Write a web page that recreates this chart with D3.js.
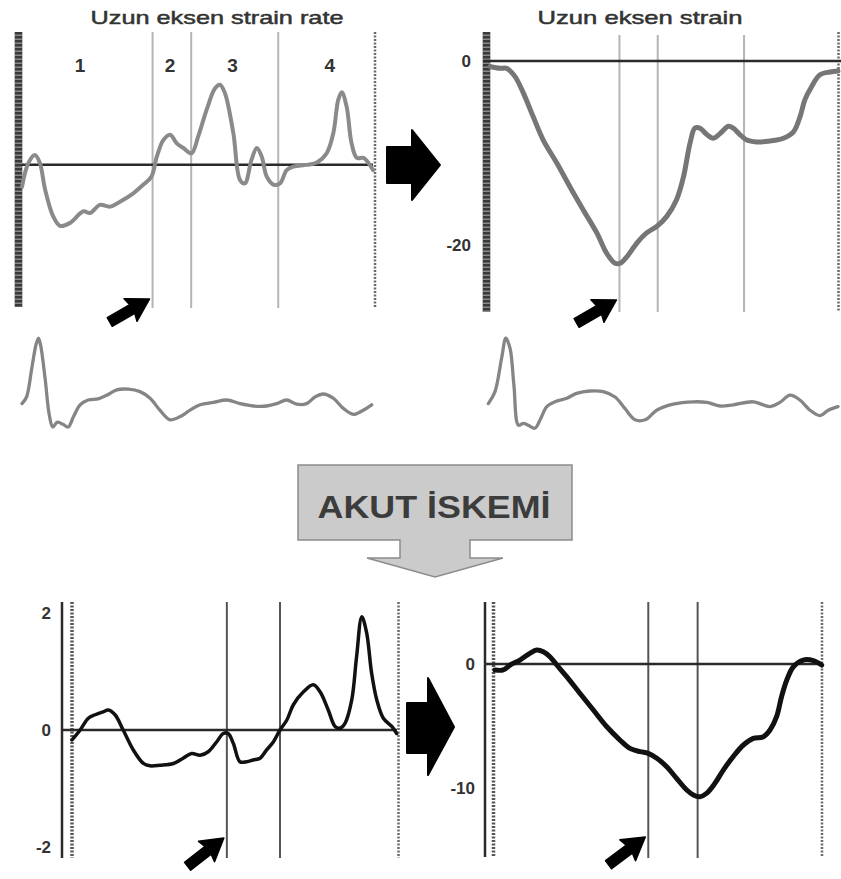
<!DOCTYPE html>
<html>
<head>
<meta charset="utf-8">
<script src="https://cdnjs.cloudflare.com/ajax/libs/d3/7.8.5/d3.min.js"></script>
<style>
  body { margin: 0; background: #fff; }
  svg { display: block; }
  text { font-family: "Liberation Sans", Arial, sans-serif; }
</style>
</head>
<body>
<div id="chart"></div>
<script>
'use strict';

const w = 841;
const h = 879;

// time axis of every panel: 0-100 (% of the cardiac cycle)
const phaseLabels = ["1", "2", "3", "4"];
const phaseCenters = [16.5, 42.2, 60, 87.7];
const eventsTop = [37.2, 48.2, 73];
const eventsBottomLeft = [47.5, 63.8];
const eventsBottomRight = [47.2, 62.2];

const titles = ["Uzun eksen strain rate", "Uzun eksen strain"];
const ischemiaLabel = "AKUT İSKEMİ";

const ticksStrainTop = [0, -20];
const ticksRateBottom = [2, 0, -2];
const ticksStrainBottom = [0, -10];

// [time, strain rate 1/s] - normal
const strainRateNormal = [[0,-0.38],[1.8,0.03],[3.7,0.17],[5.1,0.03],[6.6,-0.43],[8.9,-0.89],[10.8,-1.05],
  [13.7,-1.0],[17.5,-0.8],[19.4,-0.83],[22.2,-0.69],[25.1,-0.72],[28.9,-0.6],[31.7,-0.49],[34.6,-0.34],
  [36.9,-0.2],[38.4,0.14],[40.3,0.43],[42.2,0.52],[44.1,0.37],[46,0.29],[48.3,0.2],[50.2,0.49],[52.6,0.95],
  [55,1.32],[56.4,1.38],[57.8,1.24],[60.2,0.55],[62.1,-0.26],[63.5,-0.32],[65.4,0.09],[66.9,0.29],[68.3,0.14],
  [69.7,-0.2],[71.6,-0.34],[73.5,-0.32],[75.4,-0.09],[77.3,-0.03],[81.1,0],[84,0.04],[86.8,0.2],[88.7,0.55],
  [90.1,1.12],[91.1,1.25],[92.5,1.0],[93.9,0.37],[95.4,0.12],[97.3,0.12],[99.1,0],[100,-0.09]];

// [time, strain %] - normal
const strainNormal = [[0,-0.6],[2.9,-0.8],[4.8,-0.8],[7.2,-1.7],[9.6,-3.5],[12.4,-6.05],[15.3,-8.6],
  [19.2,-11.1],[23,-13.7],[26.8,-16.2],[30.7,-18.7],[33.5,-20.9],[35.9,-22],[37.4,-22],[39.3,-21.3],
  [42.2,-19.8],[45,-18.7],[47.9,-18],[50.8,-16.9],[53.6,-15.1],[55.6,-12.6],[57.5,-8.9],[58.9,-7.3],
  [60.3,-7.3],[62.3,-8.0],[64.2,-8.4],[66.1,-7.9],[68.5,-7.1],[69.9,-7.3],[71.8,-8.0],[73.8,-8.6],
  [76.6,-8.8],[80.5,-8.7],[84.3,-8.4],[87.2,-7.7],[89.1,-6.05],[90.5,-4.2],[92.4,-2.8],[94.8,-1.5],
  [97.7,-1.2],[100,-1.1]];

// [time, mV] - ECG under each normal panel
const ecgLeft = [[0,-0.01],[1.3,0.1],[2.8,0.58],[4,0.97],[4.7,1.08],[5.3,0.97],[6.6,0.41],[7.8,-0.2],
  [8.8,-0.4],[10.1,-0.32],[11.8,-0.36],[13.2,-0.4],[14.7,-0.23],[16.6,-0.03],[18.9,0.05],[21.8,0.07],
  [24.2,0.13],[27.1,0.22],[30.4,0.23],[33.7,0.19],[36.6,0.08],[39.4,-0.12],[42.3,-0.28],[45.1,-0.23],
  [48,-0.12],[50.9,-0.03],[54.7,0.01],[58.5,0.05],[62.3,-0.01],[66.1,-0.05],[69.9,-0.05],[72.8,-0.01],
  [75.6,0.05],[78.5,-0.02],[81.3,-0.01],[83.7,0.1],[86.1,0.15],[88.9,0.08],[91.8,-0.09],[94.7,-0.19],
  [97.5,-0.12],[99.9,-0.03]];

const ecgRight = [[0.1,-0.01],[2,0.19],[3.9,0.75],[5.1,1.08],[6.3,0.91],[7.4,0.3],[8.7,-0.37],[10.1,-0.34],
  [11.5,-0.37],[13.4,-0.42],[14.9,-0.28],[16.8,-0.06],[19.1,0.02],[22.5,0.08],[25.3,0.16],[29.1,0.2],
  [32.9,0.19],[36.3,0.1],[39.1,-0.09],[42,-0.28],[44.9,-0.28],[48.2,-0.12],[52.9,-0.02],[58.7,0.02],
  [62.5,0.01],[66.3,-0.05],[70.1,-0.03],[75.8,0.02],[80.6,-0.06],[83.4,0.01],[86.3,0.13],[89.1,0.05],
  [92,-0.12],[94.9,-0.21],[97.2,-0.12],[100,-0.06]];

// [time, strain rate 1/s] - acute ischemia
const strainRateIschemia = [[0,-0.17],[2.5,0],[5,0.2],[7.1,0.26],[9.6,0.31],[11.1,0.34],[13.2,0.26],
  [15.7,0],[18.8,-0.34],[21.9,-0.57],[23.9,-0.61],[27,-0.6],[31.1,-0.57],[34.1,-0.48],[36.7,-0.4],
  [39.3,-0.43],[41.8,-0.37],[44.4,-0.2],[46.4,-0.06],[47.9,-0.06],[49.5,-0.23],[51.5,-0.54],[53.6,-0.54],
  [55.6,-0.51],[57.7,-0.48],[59.7,-0.34],[61.8,-0.2],[63.8,0],[65.9,0.17],[67.9,0.43],[71,0.65],[74,0.77],
  [76.1,0.65],[78.6,0.34],[80.7,0.06],[82.2,0.03],[83.7,0.11],[85.8,0.51],[87.3,1.25],[88.9,1.93],
  [90.4,1.65],[91.9,0.97],[93.5,0.51],[95.5,0.2],[98.1,0.06],[99.6,-0.06]];

// [time, strain %] - acute ischemia
const strainIschemia = [[0.6,-0.48],[3.1,-0.48],[5.2,-0.08],[8.2,0.32],[11.2,0.86],[13.3,1.13],[15.3,0.99],
  [17.3,0.59],[19.4,-0.08],[22.4,-1.02],[26.4,-2.36],[30.5,-3.71],[34.6,-5.06],[38.6,-6.13],[41.6,-6.8],
  [44.7,-7.07],[47.2,-7.2],[49.8,-7.6],[52.8,-8.28],[55.8,-9.22],[58.9,-10.16],[60.9,-10.56],[62.9,-10.7],
  [64.9,-10.43],[67.5,-9.6],[70,-8.55],[73,-7.47],[76.1,-6.53],[79.1,-6.0],[82.2,-5.86],[84.2,-5.32],
  [86.2,-4.25],[87.7,-2.64],[89.3,-1.29],[91.3,-0.22],[94.3,0.32],[97.4,0.27],[99.9,-0.08]];

const chart = d3.select("#chart").append("svg").
attr("width", w).
attr("height", h);

const font = "'Liberation Sans', Arial, sans-serif";

//PANELS
const panels = [
  { data: strainRateNormal, xr: [22, 373], yd: [-2.45, 2.29], yr: [307, 32],
    leftAxis: "bar", leftX: 18.5, rightX: 375, zero: [22, 373], events: eventsTop, eventColor: "#b4b4b4",
    eventY: [32, 308], ticks: null, color: "#8a8a8a", width: 4, arrow: { dy: -9, angle: -30 } },
  { data: strainNormal, xr: [490, 838], yd: [-27.3, 3.15], yr: [312, 32],
    leftAxis: "bar", leftX: 486.5, rightX: 838.5, zero: [483, 841], events: eventsTop, eventColor: "#b4b4b4",
    eventY: [35, 312], ticks: ticksStrainTop, tickX: 471, color: "#767676", width: 5, arrow: { dy: -12, angle: -30 } },
  { data: strainRateIschemia, xr: [72, 398], yd: [-2.18, 2.18], yr: [858, 602],
    leftAxis: "double", leftX: 62, leftX2: 72, rightX: 398.5, zero: [62, 397], events: eventsBottomLeft, eventColor: "#555",
    eventY: [602, 858], ticks: ticksRateBottom, tickX: 51, color: "#111", width: 3.5, arrow: { dy: -20, angle: -38 } },
  { data: strainIschemia, xr: [493, 822], yd: [-15.56, 5], yr: [857, 602],
    leftAxis: "double", leftX: 485, leftX2: 493.5, rightX: 822, zero: [485, 822], events: eventsBottomRight, eventColor: "#555",
    eventY: [602, 858], ticks: ticksStrainBottom, tickX: 475, color: "#111", width: 5, arrow: { dy: -21, angle: -37 } }
];

const ecgs = [
  { data: ecgLeft, xr: [22, 372] },
  { data: ecgRight, xr: [488, 838] }
];

//small pointer arrow, tip at origin pointing along +x
const pointer = "M0,0 L-22,-13 L-20,-5 L-46,-5 L-46,5 L-20,5 L-22,13 Z";

function drawPanel(p) {
  const x = d3.scaleLinear().domain([0, 100]).range(p.xr);
  const y = d3.scaleLinear().domain(p.yd).range(p.yr);
  const g = chart.append("g");

  //event (valve timing) lines
  g.selectAll("line.event").
  data(p.events).
  enter().
  append("line").
  attr("class", "event").
  attr("x1", d => x(d)).attr("x2", d => x(d)).
  attr("y1", p.eventY[0]).attr("y2", p.eventY[1]).
  attr("stroke", p.eventColor).
  attr("stroke-width", 2);

  //left axis
  if (p.leftAxis === "bar") {
    g.append("line").
    attr("x1", p.leftX).attr("x2", p.leftX).
    attr("y1", p.yr[1]).attr("y2", p.yr[0]).
    attr("stroke", "#8a8a8a").
    attr("stroke-width", 8);
    g.append("line").
    attr("x1", p.leftX).attr("x2", p.leftX).
    attr("y1", p.yr[1]).attr("y2", p.yr[0]).
    attr("stroke", "#3a3a3a").
    attr("stroke-width", 7).
    attr("stroke-dasharray", "2.5 1.5");
  } else {
    g.append("line").
    attr("x1", p.leftX).attr("x2", p.leftX).
    attr("y1", p.yr[1]).attr("y2", p.yr[0]).
    attr("stroke", "#2a2a2a").
    attr("stroke-width", 2.5);
    g.append("line").
    attr("x1", p.leftX2).attr("x2", p.leftX2).
    attr("y1", p.yr[1]).attr("y2", p.yr[0]).
    attr("stroke", "#555").
    attr("stroke-width", 3.5).
    attr("stroke-dasharray", "2 1.5");
  }

  //right dotted border
  g.append("line").
  attr("x1", p.rightX).attr("x2", p.rightX).
  attr("y1", p.yr[1]).attr("y2", p.yr[0]).
  attr("stroke", "#6a6a6a").
  attr("stroke-width", 2.5).
  attr("stroke-dasharray", "2 1.5");

  //zero line
  g.append("line").
  attr("x1", p.zero[0]).attr("x2", p.zero[1]).
  attr("y1", y(0)).attr("y2", y(0)).
  attr("stroke", "#2a2a2a").
  attr("stroke-width", 2.5);

  //curve
  const line = d3.line().
  x(d => x(d[0])).
  y(d => y(d[1])).
  curve(d3.curveCatmullRom.alpha(0.5));

  g.append("path").
  datum(p.data).
  attr("d", line).
  attr("fill", "none").
  attr("stroke", p.color).
  attr("stroke-width", p.width).
  attr("stroke-linejoin", "round").
  attr("stroke-linecap", "round");

  //tick labels
  if (p.ticks) {
    const axis = g.append("g").
    attr("transform", "translate(" + p.tickX + ",0)").
    call(d3.axisLeft(y).tickValues(p.ticks).tickSize(0).tickPadding(0).tickFormat(d => String(d)));
    axis.select(".domain").remove();
    axis.selectAll("text").
    attr("font-family", font).
    attr("font-size", 17).
    attr("font-weight", "bold").
    attr("fill", "#333");
  }

  //pointer arrow at the first event line
  g.append("path").
  attr("d", pointer).
  attr("transform", "translate(" + (x(p.events[0]) - 3) + "," + (p.eventY[1] + p.arrow.dy) + ") rotate(" + p.arrow.angle + ")").
  attr("fill", "#000").
  attr("stroke", "#000").
  attr("stroke-width", 1.5).
  attr("stroke-linejoin", "round");

  return x;
}

const xTopLeft = drawPanel(panels[0]);
panels.slice(1).forEach(drawPanel);

//phase numbers over strain rate panel
chart.selectAll("text.phase").
data(phaseLabels).
enter().
append("text").
attr("class", "phase").
attr("x", (d, i) => xTopLeft(phaseCenters[i])).
attr("y", 72).
attr("text-anchor", "middle").
attr("font-size", 19).
attr("font-weight", "bold").
attr("fill", "#333").
text(d => d);

//titles
const titleSpecs = [{ x: 217, len: 253 }, { x: 640, len: 205 }];
chart.selectAll("text.title").
data(titles).
enter().
append("text").
attr("class", "title").
attr("x", (d, i) => titleSpecs[i].x).
attr("y", 24).
attr("text-anchor", "middle").
attr("font-size", 19).
attr("fill", "#333").
attr("stroke", "#333").
attr("stroke-width", 0.5).
attr("textLength", (d, i) => titleSpecs[i].len).
attr("lengthAdjust", "spacingAndGlyphs").
text(d => d);

//ECG traces
const yEcg = d3.scaleLinear().domain([-0.6, 1.2]).range([439, 331]);
ecgs.forEach(e => {
  const x = d3.scaleLinear().domain([0, 100]).range(e.xr);
  chart.append("path").
  datum(e.data).
  attr("d", d3.line().x(d => x(d[0])).y(d => yEcg(d[1])).curve(d3.curveCatmullRom.alpha(0.5))).
  attr("fill", "none").
  attr("stroke", "#858585").
  attr("stroke-width", 3.3).
  attr("stroke-linejoin", "round").
  attr("stroke-linecap", "round");
});

//big arrows between panels
const bigArrows = [
  "M387,147 H412 V130 L440,165 L412,200 V183 H387 Z",
  "M407,703 H428 V678 L454,727 L428,775 V753 H407 Z"
];
chart.selectAll("path.big").
data(bigArrows).
enter().
append("path").
attr("class", "big").
attr("d", d => d).
attr("fill", "#000").
attr("stroke", "#000").
attr("stroke-width", 2).
attr("stroke-linejoin", "round");

//AKUT ISKEMI callout
chart.append("path").
attr("d", "M298,465 H572 V540 H470 V558 H503 L435,577 L367,558 H400 V540 H298 Z").
attr("fill", "#cbcbcb").
attr("stroke", "#8c8c8c").
attr("stroke-width", 1.5);

chart.append("text").
attr("x", 434).
attr("y", 518).
attr("text-anchor", "middle").
attr("font-size", 31).
attr("font-weight", "bold").
attr("fill", "#3c3c3c").
attr("textLength", 233).
attr("lengthAdjust", "spacingAndGlyphs").
text(ischemiaLabel);
</script>
</body>
</html>
